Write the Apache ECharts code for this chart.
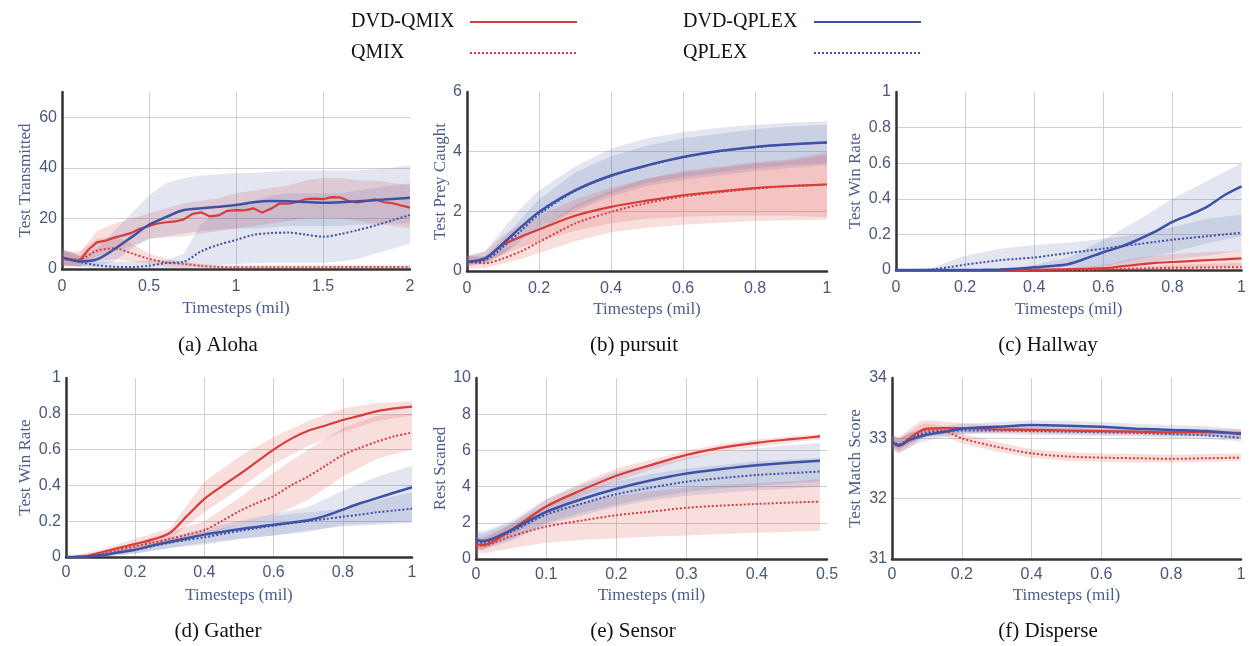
<!DOCTYPE html>
<html>
<head>
<meta charset="utf-8">
<script src="https://cdn.jsdelivr.net/npm/echarts@6/dist/echarts.min.js"></script>
<style>
  html, body { margin: 0; padding: 0; background: #fff; }
  #chart { width: 1249px; height: 646px; }
</style>
</head>
<body>
<div id="chart"></div>
<script>
// ---- (a) Aloha ----
const alohaXFine = [0,0.05,0.1,0.15,0.2,0.25,0.3,0.35,0.4,0.45,0.5,0.55,0.6,0.65,0.7,0.75,0.8,0.85,0.9,0.95,1,1.05,1.1,1.15,1.2,1.25,1.3,1.35,1.4,1.45,1.5,1.55,1.6,1.65,1.7,1.75,1.8,1.85,1.9,1.95,2]
const alohaX = [0,0.1,0.2,0.3,0.4,0.5,0.6,0.7,0.8,0.9,1,1.1,1.2,1.3,1.4,1.5,1.6,1.7,1.8,1.9,2]
const alohaDvdQmix = [4.3,3.8,3.2,7.5,10.5,11.2,12.4,13.3,14.3,16.0,17.0,18.0,18.5,18.8,19.6,21.8,22.4,20.8,21.2,23.0,23.3,23.2,24.0,22.3,23.8,25.9,25.8,26.5,27.6,27.8,27.6,28.4,28.3,26.8,26.3,26.9,27.6,26.4,26.0,25.1,24.3]
const alohaDvdQplex = [4.6,3.0,3.8,7.8,12.6,17.5,20.6,23.3,24.0,24.6,25.3,26.4,26.9,26.8,26.5,26.2,26.4,26.8,27.2,27.7,28.2]
const alohaQmix = [3.7,3.8,7.2,8.2,6.2,4.0,2.6,2.0,1.2,0.8,0.7,0.7,0.7,0.7,0.7,0.7,0.8,0.8,0.8,0.8,0.8]
const alohaQplex = [4.6,2.8,1.5,0.9,0.8,1.3,2.4,2.9,7.0,9.6,11.5,13.5,14.2,14.4,13.6,12.8,13.8,15.4,17.2,19.3,21.3]
const alohaDvdQmixLo = [1.5,1,5,7,9,12,12.5,13,14,15,16,17,18,19,20,20,20,19,18,17,16]
const alohaDvdQmixHi = [7,6,15,18,20,22,24,26,27,28,30,31,32,33,35,36,36,35,35,34,33]
const alohaQmixLo = [1,1,3,4,3,2,1,0.5,0.3,0.3,0.3,0.3,0.3,0.3,0.3,0.3,0.3,0.3,0.3,0.3,0.3]
const alohaQmixHi = [7,7,12,13,10,6,4,3,2,1.5,1.5,1.5,1.5,1.5,1.5,1.5,1.5,1.5,1.5,1.5,1.5]
const alohaDvdQplexLo = [1.5,1,1,3,8,12,13,14,15,15.5,16,16,16.5,17,17,17,17,17.5,17.5,18,18]
const alohaDvdQplexHi = [8,5,8,15,22,29,34,36,37,37.5,38,38,38.5,39,39,39,39,39,39.5,40,41]
const alohaQplexLo = [1.5,1,0.3,0.2,0.2,0.2,0.3,0.5,1,1.5,2,2.3,2.5,2.5,2.5,2.5,3,4,6,8,10]
const alohaQplexHi = [8,5,3,3,3,3.5,3.5,6,18,22,25,27,29,30,30,30,30,31,32,33,34]

// ---- (b) pursuit ----
const pursuitX = [0,0.05,0.1,0.15,0.2,0.3,0.4,0.5,0.6,0.7,0.8,0.9,1]
const pursuitDvdQmix = [0.3,0.42,0.88,1.15,1.39,1.85,2.15,2.36,2.54,2.67,2.78,2.85,2.9]
const pursuitQmix = [0.3,0.26,0.42,0.66,0.97,1.59,1.98,2.28,2.5,2.64,2.76,2.85,2.9]
const pursuitDvdQplex = [0.3,0.42,0.92,1.47,1.98,2.7,3.2,3.54,3.82,4.02,4.16,4.25,4.31]
const pursuitQplex = [0.3,0.36,0.8,1.35,1.9,2.68,3.18,3.53,3.81,4.01,4.15,4.25,4.31]
const pursuitDvdQmixLo = [0.15,0.25,0.55,0.8,1.0,1.35,1.6,1.75,1.82,1.85,1.85,1.85,1.8]
const pursuitDvdQmixHi = [0.5,0.65,1.2,1.55,1.85,2.4,2.8,3.1,3.35,3.5,3.65,3.75,4.0]
const pursuitQmixLo = [0.1,0.1,0.25,0.4,0.6,1.0,1.3,1.45,1.55,1.62,1.68,1.7,1.72]
const pursuitQmixHi = [0.5,0.45,0.7,1.0,1.4,2.2,2.7,3.1,3.3,3.45,3.6,3.7,3.9]
const pursuitDvdQplexLo = [0.2,0.3,0.6,1.05,1.45,2.1,2.6,2.95,3.15,3.3,3.45,3.55,3.6]
const pursuitDvdQplexHi = [0.5,0.65,1.4,2.1,2.7,3.5,4.1,4.45,4.65,4.8,4.9,4.97,5.02]
const pursuitQplexLo = [0.2,0.25,0.55,1.0,1.4,2.0,2.5,2.85,3.05,3.2,3.35,3.45,3.55]
const pursuitQplexHi = [0.5,0.5,1.1,1.75,2.4,3.3,3.85,4.2,4.45,4.6,4.75,4.85,4.9]

// ---- (c) Hallway ----
const hallwayX = [0,0.05,0.1,0.15,0.2,0.25,0.3,0.35,0.4,0.45,0.5,0.55,0.6,0.65,0.7,0.75,0.8,0.85,0.9,0.95,1]
const hallwayDvdQplex = [0,0,0,0,0,0.001,0.003,0.007,0.015,0.022,0.034,0.065,0.1,0.13,0.17,0.215,0.27,0.31,0.355,0.42,0.47]
const hallwayQplex = [0,0,0.002,0.015,0.03,0.043,0.055,0.063,0.07,0.083,0.095,0.108,0.12,0.133,0.145,0.158,0.17,0.18,0.19,0.2,0.21]
const hallwayDvdQmix = [0,0,0,0,0,0,0,0,0.002,0.003,0.005,0.007,0.01,0.02,0.03,0.04,0.045,0.05,0.055,0.06,0.065]
const hallwayQmix = [0,0,0,0,0,0,0,0,0,0,0,0,0.003,0.005,0.008,0.01,0.012,0.013,0.014,0.015,0.015]
const hallwayBandX = [0,0.1,0.2,0.3,0.4,0.5,0.6,0.7,0.8,0.9,1]
const hallwayDvdQplexLo = [0,0,0,0,0,0,0.02,0.06,0.1,0.15,0.19]
const hallwayDvdQplexHi = [0,0,0,0.005,0.03,0.07,0.17,0.28,0.4,0.5,0.6]
const hallwayQplexLo = [0,0,0,0.005,0.01,0.015,0.02,0.035,0.06,0.08,0.11]
const hallwayQplexHi = [0,0.01,0.08,0.12,0.14,0.155,0.175,0.2,0.24,0.29,0.31]
const hallwayDvdQmixLo = [0,0,0,0,0,0,0,0.005,0.01,0.015,0.02]
const hallwayDvdQmixHi = [0,0,0,0,0,0.01,0.03,0.07,0.09,0.1,0.11]
const hallwayQmixLo = [0,0,0,0,0,0,0,0,0,0,0]
const hallwayQmixHi = [0,0,0,0,0,0,0.01,0.02,0.03,0.035,0.04]

// ---- (d) Gather ----
const gatherX = [0,0.05,0.1,0.15,0.2,0.25,0.3,0.35,0.4,0.45,0.5,0.55,0.6,0.65,0.7,0.75,0.8,0.85,0.9,0.95,1]
const gatherDvdQmix = [0,0.002,0.025,0.05,0.073,0.097,0.135,0.23,0.325,0.395,0.46,0.53,0.6,0.66,0.705,0.735,0.765,0.79,0.815,0.83,0.84]
const gatherQmix = [0,0.002,0.02,0.04,0.06,0.08,0.1,0.125,0.15,0.2,0.255,0.3,0.34,0.4,0.45,0.51,0.57,0.61,0.645,0.675,0.695]
const gatherDvdQplex = [0,0.002,0.01,0.025,0.04,0.065,0.085,0.105,0.125,0.14,0.155,0.168,0.18,0.192,0.205,0.23,0.265,0.3,0.33,0.36,0.39]
const gatherQplex = [0,0.002,0.01,0.025,0.04,0.06,0.08,0.095,0.11,0.128,0.145,0.16,0.175,0.188,0.2,0.212,0.225,0.237,0.25,0.26,0.27]
const gatherBandX = [0,0.1,0.2,0.3,0.4,0.5,0.6,0.7,0.8,0.9,1]
const gatherDvdQmixLo = [0,0.01,0.05,0.1,0.25,0.38,0.52,0.62,0.7,0.76,0.79]
const gatherDvdQmixHi = [0,0.04,0.1,0.16,0.42,0.56,0.67,0.76,0.83,0.86,0.87]
const gatherQmixLo = [0,0.01,0.04,0.07,0.12,0.18,0.23,0.32,0.45,0.55,0.6]
const gatherQmixHi = [0,0.03,0.08,0.14,0.2,0.33,0.47,0.6,0.72,0.79,0.8]
const gatherDvdQplexLo = [0,0,0.02,0.05,0.08,0.1,0.12,0.14,0.18,0.19,0.2]
const gatherDvdQplexHi = [0,0.02,0.06,0.11,0.16,0.2,0.24,0.28,0.37,0.45,0.51]
const gatherQplexLo = [0,0,0.02,0.05,0.07,0.1,0.12,0.15,0.17,0.18,0.19]
const gatherQplexHi = [0,0.02,0.06,0.1,0.14,0.18,0.23,0.25,0.27,0.32,0.36]

// ---- (e) Sensor ----
const sensorX = [0,0.01,0.05,0.1,0.15,0.2,0.25,0.3,0.35,0.4,0.45,0.49]
const sensorDvdQmix = [0.8,0.78,1.6,2.9,3.8,4.6,5.2,5.75,6.15,6.42,6.62,6.77]
const sensorDvdQplex = [1.05,1.0,1.6,2.6,3.3,3.88,4.35,4.72,4.97,5.18,5.33,5.43]
const sensorQplex = [0.9,0.9,1.5,2.45,3.05,3.58,3.95,4.27,4.47,4.64,4.75,4.83]
const sensorQmix = [0.75,0.75,1.25,1.79,2.12,2.42,2.62,2.83,2.95,3.04,3.12,3.17]
const sensorDvdQmixLo = [0.5,0.5,1.3,2.5,3.5,4.3,4.95,5.5,5.9,6.2,6.45,6.6]
const sensorDvdQmixHi = [1.2,1.1,1.9,3.3,4.2,5.0,5.5,6.0,6.35,6.6,6.78,6.9]
const sensorDvdQplexLo = [0.6,0.6,1.1,2.0,2.55,3.0,3.4,3.7,3.9,4.05,4.2,4.3]
const sensorDvdQplexHi = [1.6,1.5,2.1,3.3,4.1,4.8,5.25,5.6,5.9,6.1,6.3,6.4]
const sensorQplexLo = [0.5,0.5,1.0,1.9,2.4,2.9,3.25,3.5,3.65,3.8,3.9,4.0]
const sensorQplexHi = [1.4,1.4,2.0,3.0,3.7,4.3,4.7,5.0,5.2,5.4,5.5,5.6]
const sensorQmixLo = [0.3,0.3,0.6,0.9,1.05,1.15,1.25,1.3,1.38,1.45,1.5,1.55]
const sensorQmixHi = [1.2,1.2,1.9,2.6,3.1,3.5,3.75,3.95,4.1,4.2,4.3,4.4]

// ---- (f) Disperse ----
const disperseX = [0,0.02,0.05,0.08,0.1,0.15,0.2,0.3,0.4,0.5,0.6,0.7,0.8,0.9,1]
const disperseDvdQmix = [32.93,32.88,33.0,33.12,33.16,33.17,33.17,33.15,33.14,33.13,33.12,33.11,33.1,33.1,33.09]
const disperseDvdQplex = [32.95,32.88,32.97,33.03,33.06,33.11,33.16,33.19,33.22,33.21,33.19,33.16,33.14,33.12,33.07]
const disperseQplex = [32.95,32.9,33.0,33.06,33.09,33.12,33.13,33.13,33.12,33.11,33.1,33.09,33.07,33.05,33.01]
const disperseQmix = [32.93,32.9,33.0,33.1,33.13,33.12,33.0,32.86,32.75,32.7,32.68,32.67,32.66,32.67,32.68]
const disperseDvdQmixLo = [32.8,32.75,32.85,32.98,33.04,33.08,33.1,33.09,33.08,33.07,33.06,33.05,33.04,33.04,33.03]
const disperseDvdQmixHi = [33.05,33.02,33.15,33.28,33.3,33.28,33.25,33.22,33.2,33.19,33.18,33.17,33.16,33.16,33.15]
const disperseDvdQplexLo = [32.85,32.76,32.85,32.93,32.96,33.02,33.07,33.11,33.14,33.13,33.11,33.08,33.06,33.04,32.99]
const disperseDvdQplexHi = [33.06,33.0,33.09,33.14,33.16,33.2,33.24,33.27,33.3,33.29,33.27,33.24,33.22,33.2,33.15]
const disperseQplexLo = [32.87,32.82,32.92,32.99,33.02,33.06,33.07,33.07,33.06,33.05,33.04,33.03,33.01,32.99,32.95]
const disperseQplexHi = [33.03,32.98,33.08,33.13,33.16,33.18,33.19,33.19,33.18,33.17,33.16,33.15,33.13,33.11,33.07]
const disperseQmixLo = [32.83,32.8,32.9,33.0,33.04,33.04,32.92,32.78,32.68,32.63,32.61,32.6,32.6,32.61,32.62]
const disperseQmixHi = [33.03,33.0,33.1,33.22,33.25,33.2,33.08,32.94,32.82,32.77,32.75,32.74,32.73,32.74,32.75]

const RED = '#d63c3a'
const BLUE = '#3d51a5'
const RED_BAND = 'rgba(224, 88, 88, 0.2)'
const BLUE_BAND = 'rgba(88, 104, 170, 0.17)'
const SERIF = '"Liberation Serif", "DejaVu Serif", serif'
const SANS = '"Liberation Sans", Arial, sans-serif'

const methods = {
  qmix: { name: 'QMIX', color: RED, band: RED_BAND, type: 'dotted', width: 2 },
  qplex: { name: 'QPLEX', color: BLUE, band: BLUE_BAND, type: 'dotted', width: 2 },
  dvdQmix: { name: 'DVD-QMIX', color: RED, band: RED_BAND, type: 'solid', width: 2.2 },
  dvdQplex: { name: 'DVD-QPLEX', color: BLUE, band: BLUE_BAND, type: 'solid', width: 2.5 }
}

const panels = [
  {
    title: '(a) Aloha', titleX: 218, titleY: 335,
    grid: { left: 62, top: 92, width: 348, height: 177 },
    xMax: 2, xInterval: 0.5, yMin: 0, yMax: 70, yInterval: 20, hideMaxLabel: true,
    yName: 'Test Transmitted', yGap: 28, xGap: 31, xMargin: 10,
    lines: {
      qmix: [alohaX, alohaQmix], qplex: [alohaX, alohaQplex],
      dvdQmix: [alohaXFine, alohaDvdQmix], dvdQplex: [alohaX, alohaDvdQplex]
    },
    bands: {
      qmix: [alohaX, alohaQmixLo, alohaQmixHi], qplex: [alohaX, alohaQplexLo, alohaQplexHi],
      dvdQmix: [alohaX, alohaDvdQmixLo, alohaDvdQmixHi], dvdQplex: [alohaX, alohaDvdQplexLo, alohaDvdQplexHi]
    },
    rough: 'dvdQmix'
  },
  {
    title: '(b) pursuit', titleX: 634, titleY: 335,
    grid: { left: 467, top: 92, width: 360, height: 179 },
    xMax: 1, xInterval: 0.2, yMin: 0, yMax: 6, yInterval: 2,
    yName: 'Test Prey Caught', yGap: 18, xGap: 30, xMargin: 10,
    lines: {
      qmix: [pursuitX, pursuitQmix], qplex: [pursuitX, pursuitQplex],
      dvdQmix: [pursuitX, pursuitDvdQmix], dvdQplex: [pursuitX, pursuitDvdQplex]
    },
    bands: {
      qmix: [pursuitX, pursuitQmixLo, pursuitQmixHi], qplex: [pursuitX, pursuitQplexLo, pursuitQplexHi],
      dvdQmix: [pursuitX, pursuitDvdQmixLo, pursuitDvdQmixHi], dvdQplex: [pursuitX, pursuitDvdQplexLo, pursuitDvdQplexHi]
    }
  },
  {
    title: '(c) Hallway', titleX: 1048, titleY: 335,
    grid: { left: 896, top: 92, width: 347, height: 178 },
    xMax: 1, xInterval: 0.2, yMin: 0, yMax: 1, yInterval: 0.2,
    yName: 'Test Win Rate', yGap: 32, xGap: 31, xMargin: 10,
    lines: {
      qmix: [hallwayX, hallwayQmix], qplex: [hallwayX, hallwayQplex],
      dvdQmix: [hallwayX, hallwayDvdQmix], dvdQplex: [hallwayX, hallwayDvdQplex]
    },
    bands: {
      qmix: [hallwayBandX, hallwayQmixLo, hallwayQmixHi], qplex: [hallwayBandX, hallwayQplexLo, hallwayQplexHi],
      dvdQmix: [hallwayBandX, hallwayDvdQmixLo, hallwayDvdQmixHi], dvdQplex: [hallwayBandX, hallwayDvdQplexLo, hallwayDvdQplexHi]
    }
  },
  {
    title: '(d) Gather', titleX: 218, titleY: 621,
    grid: { left: 66, top: 378, width: 346, height: 179 },
    xMax: 1, xInterval: 0.2, yMin: 0, yMax: 1, yInterval: 0.2,
    yName: 'Test Win Rate', yGap: 32, xGap: 30, xMargin: 8,
    lines: {
      qmix: [gatherX, gatherQmix], qplex: [gatherX, gatherQplex],
      dvdQmix: [gatherX, gatherDvdQmix], dvdQplex: [gatherX, gatherDvdQplex]
    },
    bands: {
      qmix: [gatherBandX, gatherQmixLo, gatherQmixHi], qplex: [gatherBandX, gatherQplexLo, gatherQplexHi],
      dvdQmix: [gatherBandX, gatherDvdQmixLo, gatherDvdQmixHi], dvdQplex: [gatherBandX, gatherDvdQplexLo, gatherDvdQplexHi]
    }
  },
  {
    title: '(e) Sensor', titleX: 633, titleY: 621,
    grid: { left: 476, top: 378, width: 351, height: 181 },
    xMax: 0.5, xInterval: 0.1, yMin: 0, yMax: 10, yInterval: 2,
    yName: 'Rest Scaned', yGap: 27, xGap: 28, xMargin: 8,
    lines: {
      qmix: [sensorX, sensorQmix], qplex: [sensorX, sensorQplex],
      dvdQmix: [sensorX, sensorDvdQmix], dvdQplex: [sensorX, sensorDvdQplex]
    },
    bands: {
      qmix: [sensorX, sensorQmixLo, sensorQmixHi], qplex: [sensorX, sensorQplexLo, sensorQplexHi],
      dvdQmix: [sensorX, sensorDvdQmixLo, sensorDvdQmixHi], dvdQplex: [sensorX, sensorDvdQplexLo, sensorDvdQplexHi]
    }
  },
  {
    title: '(f) Disperse', titleX: 1048, titleY: 621,
    grid: { left: 892, top: 378, width: 349, height: 181 },
    xMax: 1, xInterval: 0.2, yMin: 31, yMax: 34, yInterval: 1,
    yName: 'Test Match Score', yGap: 28, xGap: 28, xMargin: 8,
    lines: {
      qmix: [disperseX, disperseQmix], qplex: [disperseX, disperseQplex],
      dvdQmix: [disperseX, disperseDvdQmix], dvdQplex: [disperseX, disperseDvdQplex]
    },
    bands: {
      qmix: [disperseX, disperseQmixLo, disperseQmixHi], qplex: [disperseX, disperseQplexLo, disperseQplexHi],
      dvdQmix: [disperseX, disperseDvdQmixLo, disperseDvdQmixHi], dvdQplex: [disperseX, disperseDvdQplexLo, disperseDvdQplexHi]
    }
  }
]

const grids = []
const xAxes = []
const yAxes = []
const titles = []
const series = []

const axisLine = { show: true, onZero: false, lineStyle: { color: '#333', width: 2.5 } }
const splitLine = { show: true, showMinLine: false, showMaxLine: false, lineStyle: { color: '#cfcfcf', width: 1 } }
const labelStyle = { color: '#4a5878', fontFamily: SANS, fontSize: 16 }
const nameStyle = { color: '#4d5c8a', fontFamily: SERIF, fontSize: 17 }

// shaded band: one polygon built from the [x, lo, hi] rows through the axes
function bandRender(color) {
  return (params, api) => {
    if (params.dataIndexInside !== 0) return null
    const n = params.dataInsideLength
    const upper = []
    const lower = []
    for (let k = 0; k < n; k++) {
      upper.push(api.coord([api.value(0, k), api.value(2, k)]))
      lower.push(api.coord([api.value(0, k), api.value(1, k)]))
    }
    return {
      type: 'polygon',
      shape: { points: upper.concat(lower.reverse()) },
      style: { fill: color }
    }
  }
}

panels.forEach((p, i) => {
  grids.push(p.grid)
  titles.push({
    text: p.title, left: p.titleX, top: p.titleY, textAlign: 'center', padding: 0,
    textStyle: { fontFamily: SERIF, fontSize: 21, fontWeight: 'normal', color: '#111' }
  })
  xAxes.push({
    type: 'value', gridIndex: i, min: 0, max: p.xMax, interval: p.xInterval,
    name: 'Timesteps (mil)', nameLocation: 'middle', nameGap: p.xGap, nameTextStyle: nameStyle,
    nameMoveOverlap: false,
    axisLine, axisTick: { show: false }, splitLine,
    axisLabel: { ...labelStyle, margin: p.xMargin }
  })
  yAxes.push({
    type: 'value', gridIndex: i, min: p.yMin, max: p.yMax, interval: p.yInterval,
    name: p.yName, nameLocation: 'middle', nameGap: p.yGap, nameTextStyle: nameStyle,
    nameMoveOverlap: false,
    axisLine, axisTick: { show: false }, splitLine,
    axisLabel: { ...labelStyle, margin: 5, showMaxLabel: !p.hideMaxLabel }
  })

  Object.keys(p.bands).forEach(key => {
    const [bx, lo, hi] = p.bands[key]
    series.push({
      type: 'custom', name: 'band', xAxisIndex: i, yAxisIndex: i, silent: true, z: 1, clip: true,
      data: bx.map((x, j) => [x, lo[j], hi[j]]),
      encode: { x: 0, y: [1, 2] },
      renderItem: bandRender(methods[key].band)
    })
  })

  Object.keys(p.lines).forEach(key => {
    const m = methods[key]
    const [lx, ly] = p.lines[key]
    series.push({
      type: 'line', name: m.name, xAxisIndex: i, yAxisIndex: i,
      data: lx.map((x, j) => [x, ly[j]]),
      symbol: 'none', smooth: p.rough === key ? false : 0.3,
      z: m.type === 'solid' ? 4 : 3,
      itemStyle: { color: m.color },
      lineStyle: { color: m.color, width: m.width, type: m.type }
    })
  })
})

const legendCommon = {
  orient: 'vertical', top: 12, align: 'right', padding: 0,
  itemWidth: 107, itemHeight: 20, itemGap: 11, selectedMode: false,
  itemStyle: { opacity: 0 },
  formatter: '{n|{name}}'
}

const option = {
  animation: false,
  backgroundColor: '#fff',
  title: titles,
  legend: [
    { ...legendCommon, left: 351, data: ['DVD-QMIX', 'QMIX'],
      textStyle: { rich: { n: { width: 114, align: 'left', fontFamily: SERIF, fontSize: 20, color: '#111' } } } },
    { ...legendCommon, left: 683, data: ['DVD-QPLEX', 'QPLEX'],
      textStyle: { rich: { n: { width: 126, align: 'left', fontFamily: SERIF, fontSize: 20, color: '#111' } } } }
  ],
  grid: grids,
  xAxis: xAxes,
  yAxis: yAxes,
  series
}

const chart = echarts.init(document.getElementById('chart'))
chart.setOption(option)
window.addEventListener('resize', () => chart.resize())
</script>
</body>
</html>
